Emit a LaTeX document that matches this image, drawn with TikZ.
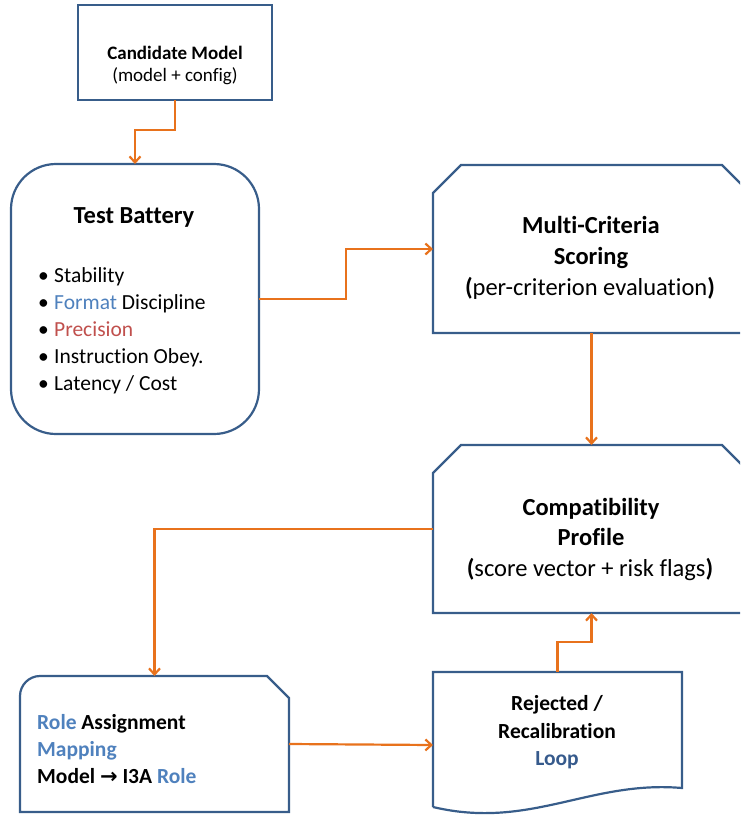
\documentclass[tikz,border=0pt]{standalone}
\usepackage{fontspec}
\setmainfont{Carlito}[Ligatures=NoCommon]
\newfontfamily\djv{DejaVu Sans}
\usetikzlibrary{arrows.meta}
\definecolor{bord}{RGB}{56,93,138}
\definecolor{orng}{RGB}{232,114,28}
\definecolor{lblue}{RGB}{79,129,189}
\definecolor{dblue}{RGB}{54,90,140}
\definecolor{redt}{RGB}{192,80,77}
\begin{document}
\begin{tikzpicture}[x=1pt,y=-1pt,
  boxline/.style={draw=bord,line width=2.2pt},
  anchorbox/.style={inner sep=0pt,outer sep=0pt},
  arr/.style={draw=orng,line width=2.2pt,-{Straight Barb[length=6pt,width=11pt]}},
  tsmall/.style={font=\fontsize{19}{23}\selectfont,inner sep=0pt,anchor=base},
  tmid/.style={font=\fontsize{21.5}{27}\selectfont,inner sep=0pt,anchor=base},
  tbig/.style={font=\fontsize{24.5}{30}\selectfont,inner sep=0pt,anchor=base},
  bul/.style={tmid,anchor=base west},
]
\clip (0,0) rectangle (740,815);

% ---- Candidate model
\node[boxline,anchorbox,minimum width=194pt,minimum height=95pt] (cand) at (175,52.5) {};
\node[tsmall] (cand1) at (175,59) {\bfseries Candidate Model};
\node[tsmall] (cand2) at (175,81) {(model + config)};

% ---- Test battery
\node[boxline,anchorbox,rounded corners=45pt,minimum width=248pt,minimum height=270pt] (tb) at (135,299) {};
\node[tbig] (tbt) at (134,223) {\bfseries Test Battery};
\node[bul] (b1) at (38,282) {\makebox[16pt][l]{•}Stability};
\node[bul] (b2) at (38,309) {\makebox[16pt][l]{•}\textcolor{lblue}{Format} Discipline};
\node[bul] (b3) at (38,336) {\makebox[16pt][l]{•}\textcolor{redt}{Precision}};
\node[bul] (b4) at (38,363) {\makebox[16pt][l]{•}Instruction Obey.};
\node[bul] (b5) at (38,390) {\makebox[16pt][l]{•}Latency / Cost};

% ---- Multi-criteria scoring
\node[anchorbox,minimum width=317pt,minimum height=168pt] (mc) at (591.5,249) {};
\draw[boxline] (433,333) -- (433,193) -- (461,165) -- (722,165) -- (750,193) -- (750,333) -- cycle;
\node[tbig] (mc1) at (591,233) {\bfseries Multi-Criteria};
\node[tbig] (mc2) at (591,264) {\bfseries Scoring};
\node[tbig] (mc3) at (590,295) {\textbf{(}per-criterion evaluation\textbf{)}};

% ---- Compatibility profile
\node[anchorbox,minimum width=317pt,minimum height=168pt] (cp) at (591.5,529) {};
\draw[boxline] (433,613) -- (433,473) -- (461,445) -- (722,445) -- (750,473) -- (750,613) -- cycle;
\node[tbig] (cp1) at (591,515) {\bfseries Compatibility};
\node[tbig] (cp2) at (591,545) {\bfseries Profile};
\node[tbig] (cp3) at (590,576) {\textbf{(}score vector + risk flags\textbf{)}};

% ---- Role assignment
\node[anchorbox,minimum width=269pt,minimum height=136pt] (role) at (154.5,744) {};
\draw[boxline] (20,812) -- (20,696) .. controls (20,685) and (29,676) .. (40,676)
  -- (267,676) -- (289,698) -- (289,812) -- cycle;
\node[tmid,anchor=base west] (r1) at (37,729) {\bfseries\textcolor{lblue}{Role} Assignment};
\node[tmid,anchor=base west] (r2) at (37,756) {\bfseries\textcolor{lblue}{Mapping}};
\node[tmid,anchor=base west] (r3) at (37,783) {\bfseries Model {\djv\fontsize{21}{24}\selectfont\bfseries →} I3A \textcolor{lblue}{Role}};

% ---- Rejected / recalibration
\node[anchorbox,minimum width=249pt,minimum height=146pt] (rej) at (557.5,745) {};
\draw[boxline] (433,807) -- (433,672) -- (682,672) -- (682,788)
  .. controls (590,780) and (530,830) .. (433,807);
\node[tmid] (j1) at (557,710) {\bfseries Rejected /};
\node[tmid] (j2) at (557,738) {\bfseries Recalibration};
\node[tmid] (j3) at (557,765) {\bfseries\textcolor{dblue}{Loop}};

% ---- connectors
\draw[arr] (cand.south) -- ++(0,30) -| (tb.north);
\draw[arr] (tb.east) -- ++(87,0) |- (mc.west);
\draw[arr] (mc.south) -- (cp.north);
\draw[arr] (cp.west) -| (role.north);
\draw[arr] (role.east) -- (rej.west);
\draw[arr] (rej.north) -- ++(0,-30) -| (cp.south);
\end{tikzpicture}
\end{document}
